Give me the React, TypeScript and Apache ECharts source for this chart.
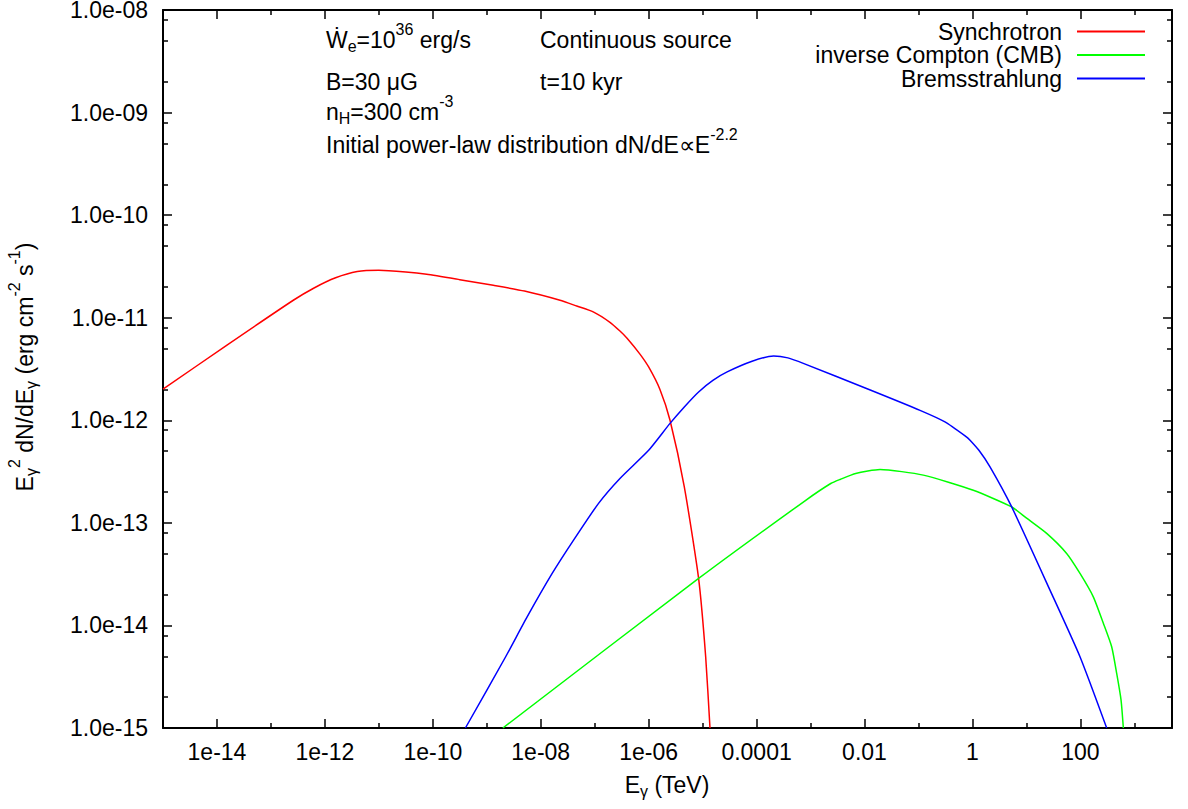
import React, { useEffect, useRef } from "react";
import * as echarts from "echarts";

const FONT = '"Liberation Sans", Arial, Helvetica, sans-serif';

// Photon energy E (TeV) and E^2 dN/dE (erg cm^-2 s^-1)
const synchrotronE = [1.0e-15, 1.51e-14, 2.6e-13, 6.3e-13, 1.58e-12, 3.98e-12, 1.0e-11, 3.16e-11, 7.7e-11, 3.16e-10, 1.32e-9, 5.0e-9, 2.28e-8, 4.65e-8, 9.4e-8, 1.92e-7, 2.94e-7, 3.98e-7, 6.9e-7, 1.0e-6, 1.62e-6, 2.49e-6, 4.58e-6, 8.43e-6, 1.14e-5, 1.37e-5];
const synchrotronF = [2.01e-12, 5.38e-12, 1.48e-11, 1.95e-11, 2.45e-11, 2.82e-11, 2.9e-11, 2.79e-11, 2.65e-11, 2.35e-11, 2.07e-11, 1.82e-11, 1.48e-11, 1.3e-11, 1.14e-11, 9.02e-12, 7.41e-12, 6.31e-12, 4.42e-12, 3.31e-12, 2.0e-12, 1.0e-12, 2.24e-13, 2.87e-14, 4.95e-15, 1.0e-15];

const inverseComptonE = [1.99e-9, 8.43e-6, 8.15e-4, 2.37e-3, 3.52e-3, 6.87e-3, 1.94e-2, 0.123, 1.04, 5.35, 10.1, 23.8, 55.8, 98.6, 174, 267, 381, 472, 568, 627];
const inverseComptonF = [1.0e-15, 2.87e-14, 1.66e-13, 2.42e-13, 2.65e-13, 3.03e-13, 3.31e-13, 2.92e-13, 2.08e-13, 1.43e-13, 1.11e-13, 7.89e-14, 5.03e-14, 3.21e-14, 1.9e-14, 1.05e-14, 6.19e-15, 3.41e-15, 1.88e-15, 1.0e-15];

const bremsE = [4.02e-10, 2.24e-9, 5.6e-9, 1.63e-8, 4.06e-8, 1.18e-7, 2.94e-7, 1.0e-6, 2.49e-6, 4.58e-6, 8.43e-6, 1.55e-5, 2.85e-5, 8.26e-5, 2.07e-4, 3.81e-4, 7.55e-4, 1.09e-2, 0.107, 0.31, 0.774, 0.904, 1.32, 2.12, 5.35, 27.4, 98.6, 308];
const bremsF = [1.0e-15, 4.95e-15, 1.21e-14, 3.21e-14, 6.78e-14, 1.55e-13, 2.71e-13, 5.1e-13, 9.33e-13, 1.35e-12, 1.89e-12, 2.45e-12, 2.96e-12, 3.76e-12, 4.24e-12, 4.06e-12, 3.57e-12, 2.04e-12, 1.25e-12, 9.64e-13, 6.89e-13, 6.4e-13, 5.1e-13, 3.52e-13, 1.43e-13, 2.21e-14, 4.95e-15, 1.0e-15];

const seriesNames = ["Synchrotron", "inverse Compton (CMB)", "Bremsstrahlung"];
const seriesColors = ["#ff0000", "#00ff00", "#0000ff"];

// Axis ranges and tick labels
const X_RANGE = [1e-15, 5000];
const Y_RANGE = [1e-15, 1e-8];
const xMajorTicks = [1e-14, 1e-12, 1e-10, 1e-8, 1e-6, 1e-4, 1e-2, 1, 100];
const xMajorLabels = ["1e-14", "1e-12", "1e-10", "1e-08", "1e-06", "0.0001", "0.01", "1", "100"];
const xMinorTicks = [1e-13, 1e-11, 1e-9, 1e-7, 1e-5, 1e-3, 0.1, 10, 1000];
const yMajorTicks = [1e-15, 1e-14, 1e-13, 1e-12, 1e-11, 1e-10, 1e-9, 1e-8];
const yMajorLabels = ["1.0e-15", "1.0e-14", "1.0e-13", "1.0e-12", "1.0e-11", "1.0e-10", "1.0e-09", "1.0e-08"];
const yMinorMantissas = [2, 5, 8];

const lg = (v: number) => Math.log10(v);

function findLabel(v: number, ticks: number[], labels: string[]) {
  for (let i = 0; i < ticks.length; i++) {
    if (Math.abs(lg(ticks[i]) - v) < 1e-6) return labels[i];
  }
  return "";
}

function makeAxis(dim: "x" | "y", position: string, ticks: number[], len: number, labels: string[] | null, showLine: boolean) {
  const range = dim === "x" ? X_RANGE : Y_RANGE;
  return {
    type: "value",
    position,
    min: lg(range[0]),
    max: lg(range[1]),
    gridIndex: 0,
    axisLine: { show: showLine, onZero: false, lineStyle: { color: "#000", width: 2 } },
    axisTick: {
      show: true,
      inside: true,
      length: len,
      customValues: ticks.map(lg),
      lineStyle: { color: "#000", width: 1.5 },
    },
    axisLabel: labels
      ? {
          show: true,
          customValues: ticks.map(lg),
          formatter: (v: number) => findLabel(v, ticks, labels),
          fontSize: 23,
          lineHeight: 18,
          fontFamily: FONT,
          color: "#000",
          margin: 15,
        }
      : { show: false },
    splitLine: { show: false },
    splitArea: { show: false },
  };
}

const yMinorTicks: number[] = [];
for (let i = 0; i < yMajorTicks.length - 1; i++) {
  for (const m of yMinorMantissas) yMinorTicks.push(yMajorTicks[i] * m);
}

const richBase = {
  m: { fontSize: 23, fontFamily: FONT, fill: "#000", lineHeight: 40 },
  sup: { fontSize: 16, fontFamily: FONT, fill: "#000", lineHeight: 16, padding: [0, 0, 21, 0] },
  sub: { fontSize: 16, fontFamily: FONT, fill: "#000", lineHeight: 16, padding: [13, 0, 0, 0] },
};

function label(text: string, x: number, y: number, align = "left", rotation = 0) {
  return {
    type: "text",
    x,
    y,
    rotation,
    silent: true,
    style: {
      text,
      rich: richBase,
      fill: "#000",
      fontSize: 23,
      fontFamily: FONT,
      align,
      verticalAlign: "middle",
    },
  };
}

export default function App() {
  const ref = useRef<HTMLDivElement>(null);
  useEffect(() => {
    const chart = echarts.init(ref.current!, null, { renderer: "svg" });
    const sets = [
      [synchrotronE, synchrotronF],
      [inverseComptonE, inverseComptonF],
      [bremsE, bremsF],
    ];
    const option: any = {
      animation: false,
      backgroundColor: "#fff",
      grid: { left: 163, right: 16, top: 10, bottom: 81, containLabel: false, outerBoundsMode: "none" },
      xAxis: [
        makeAxis("x", "bottom", xMajorTicks, 9, xMajorLabels, true),
        makeAxis("x", "bottom", xMinorTicks, 5, null, false),
        makeAxis("x", "top", xMajorTicks, 9, null, true),
        makeAxis("x", "top", xMinorTicks, 5, null, false),
      ],
      yAxis: [
        makeAxis("y", "left", yMajorTicks, 9, yMajorLabels, true),
        makeAxis("y", "left", yMinorTicks, 5, null, false),
        makeAxis("y", "right", yMajorTicks, 9, null, true),
        makeAxis("y", "right", yMinorTicks, 5, null, false),
      ],
      legend: {
        orient: "vertical",
        right: 43,
        top: 20,
        padding: 0,
        align: "right",
        icon: "rect",
        itemWidth: 68,
        itemHeight: 2,
        itemGap: 0.5,
        selectedMode: false,
        itemStyle: { borderWidth: 0 },
        textStyle: { fontSize: 23, lineHeight: 23, fontFamily: FONT, color: "#000", padding: [0, 10, 0, 0] },
        data: seriesNames,
      },
      series: sets.map(([E, F], i) => ({
        name: seriesNames[i],
        type: "line",
        xAxisIndex: 0,
        yAxisIndex: 0,
        data: E.map((e, j) => [lg(e), lg(F[j])]),
        symbol: "none",
        showSymbol: false,
        smooth: 0.2,
        color: seriesColors[i],
        itemStyle: { color: seriesColors[i] },
        lineStyle: { color: seriesColors[i], width: 1.5 },
        silent: true,
      })),
      graphic: [
        label("{m|\u1E86}{sub|e}{m|=10}{sup|36}{m| erg/s}", 326, 40),
        label("{m|Continuous source}", 540, 40),
        label("{m|B=30 \u03BCG}", 326, 82),
        label("{m|t=10 kyr}", 540, 82),
        label("{m|n}{sub|H}{m|=300 cm}{sup|-3}", 326, 112),
        label("{m|Initial power-law distribution dN/dE\u221DE}{sup|-2.2}", 326, 145),
        label("{m|E}{sub|\u03B3}{m| (TeV)}", 667, 785, "center"),
        label("{m|E}{sub|\u03B3}{sup|2}{m| dN/dE}{sub|\u03B3}{m| (erg cm}{sup|-2}{m| s}{sup|-1}{m|)}", 25, 367, "center", Math.PI / 2),
      ],
    };
    chart.setOption(option);
    return () => chart.dispose();
  }, []);
  return (
    <div
      ref={ref}
      style={{ position: "absolute", left: 0, top: 0, width: 1188, height: 809, background: "#fff" }}
    />
  );
}
